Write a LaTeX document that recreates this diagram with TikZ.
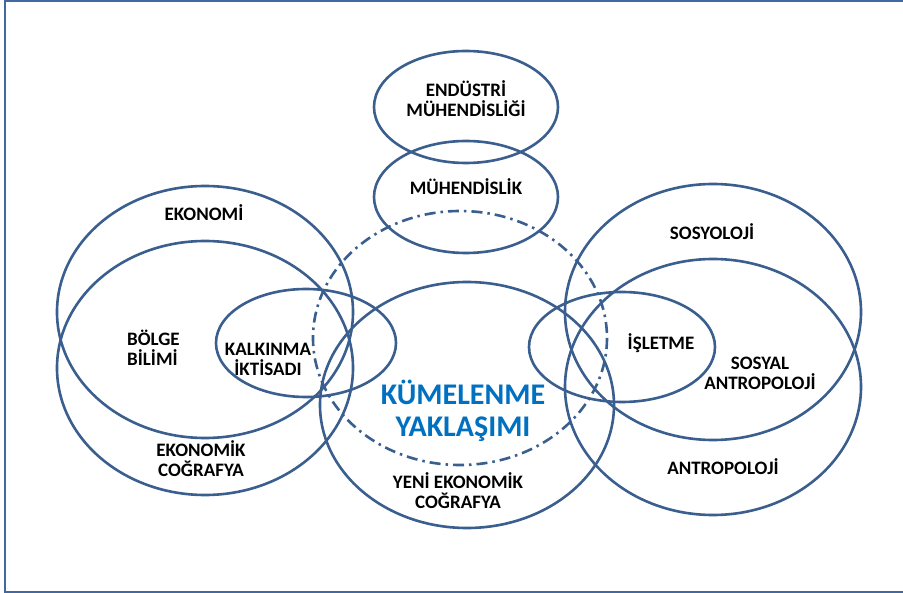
\documentclass[tikz,border=0pt]{standalone}
\usepackage{fontspec}
\setmainfont{Carlito}
\definecolor{ring}{HTML}{3A5F8F}
\definecolor{frame}{HTML}{4169A0}
\definecolor{bluetext}{HTML}{0070C0}
\begin{document}
\begin{tikzpicture}[x=1pt,y=-1pt,
  ring/.style={draw=ring,line width=2.6pt},
  dashring/.style={draw=ring,line width=2.6pt,dash pattern=on 11pt off 5pt on 2.5pt off 5pt},
  lbl/.style={font=\fontsize{19}{20}\selectfont\bfseries,text=black,align=center,inner sep=0pt},
  big/.style={font=\fontsize{30}{32}\selectfont\bfseries,text=bluetext,align=center,inner sep=0pt}]
\useasboundingbox (0,0) rectangle (903,593);
\fill[white] (0,0) rectangle (903,593);
\draw[frame,line width=2pt] (903,1.5) -- (5,1.5) -- (5,591.5) -- (903,591.5);
% ellipses
\coordinate (cEnd) at (466,107);
\coordinate (cMuh) at (466,197);
\coordinate (cEko) at (205,312);
\coordinate (cEkc) at (205,368);
\coordinate (cKal) at (306,343);
\coordinate (cYen) at (467,405);
\coordinate (cKum) at (460,338);
\coordinate (cSos) at (713,312);
\coordinate (cAnt) at (713,387);
\coordinate (cIsl) at (622,347);
\draw[ring] (cEnd) ellipse [x radius=92,y radius=56];
\draw[ring] (cMuh) ellipse [x radius=92,y radius=56];
\draw[ring] (cEko) ellipse [x radius=148,y radius=126];
\draw[ring] (cEkc) ellipse [x radius=148,y radius=127];
\draw[ring] (cKal) ellipse [x radius=90,y radius=54];
\draw[ring] (cYen) ellipse [x radius=147,y radius=123];
\draw[dashring] (cKum) ellipse [x radius=147,y radius=127];
\draw[ring] (cSos) ellipse [x radius=148,y radius=128];
\draw[ring] (cAnt) ellipse [x radius=148,y radius=128];
\draw[ring] (cIsl) ellipse [x radius=93,y radius=55];
% labels
\node[lbl] (tEnd) at (466,99) {ENDÜSTRİ\\MÜHENDİSLİĞİ};
\node[lbl] (tMuh) at (466,187) {MÜHENDİSLİK};
\node[lbl] (tEko) at (204,213) {EKONOMİ};
\node[lbl,align=left,anchor=west] (tBol) at (127,348) {BÖLGE\\BİLİMİ};
\node[lbl] (tKal) at (268,359) {KALKINMA\\İKTİSADI};
\node[lbl] (tEkc) at (201,459) {EKONOMİK\\COĞRAFYA};
\node[big] (tKum) at (463,411) {KÜMELENME\\YAKLAŞIMI};
\node[lbl] (tYen) at (458,491) {YENİ EKONOMİK\\COĞRAFYA};
\node[lbl] (tSos) at (712,232) {SOSYOLOJİ};
\node[lbl] (tIsl) at (661,343) {İŞLETME};
\node[lbl] (tSan) at (760,373) {SOSYAL\\ANTROPOLOJİ};
\node[lbl] (tAnt) at (723,467) {ANTROPOLOJİ};
\end{tikzpicture}
\end{document}
